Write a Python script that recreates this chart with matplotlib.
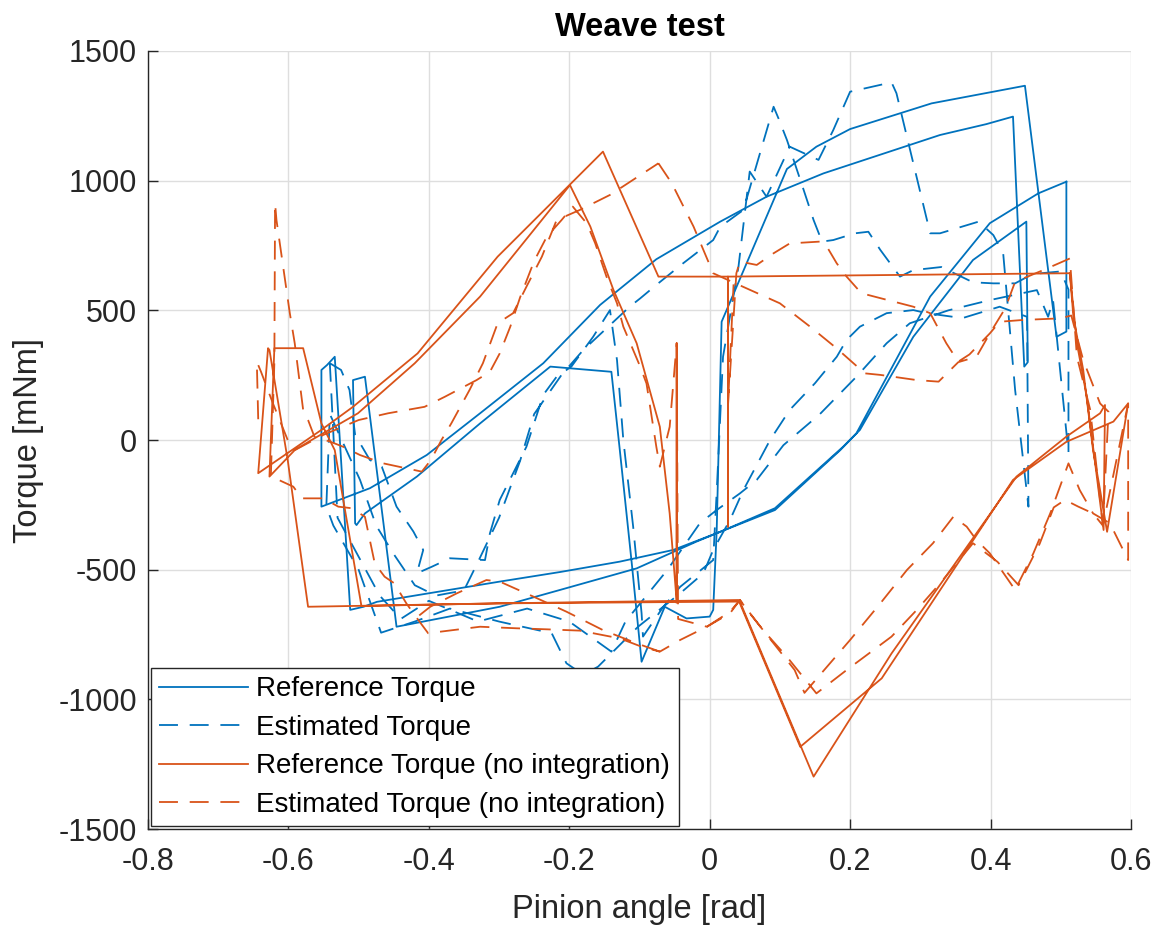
import numpy as np
import matplotlib
matplotlib.use("Agg")
import matplotlib.pyplot as plt

nan = np.nan

# ---------------- data ----------------
# Reference Torque (blue solid)
ref_x = [0.508, 0.468, 0.399, 0.314, 0.209, 0.19, 0.093, 0.015, -0.052, -0.128, -0.213, -0.299, -0.474, -0.493, -0.512,
         -0.534, -0.545, -0.553, -0.553, -0.484, -0.403, -0.327, -0.237, -0.156, -0.076, 0.015, 0.081, 0.162, 0.328, 0.394, 0.432,
         0.448, 0.453, 0.451, 0.375, 0.29, 0.214, 0.186, 0.093, 0.015, -0.019, -0.104, -0.213, -0.299, -0.446,
         -0.491, -0.508, -0.505, -0.503, -0.491, -0.417, -0.327, -0.227, -0.14, -0.128, -0.111, -0.097, -0.064, -0.033,
         0.0, 0.005, 0.01, 0.017, 0.110, 0.152, 0.2, 0.316, 0.449, 0.494, 0.508, 0.508]
ref_y = [996, 951, 836, 553, 26, -26, -263, -354, -424, -469, -509, -546, -624, -643, -655,
         321, 289, 270, -257, -186, -58, 103, 296, 521, 697, 842, 938, 1028, 1176, 1218, 1247,
         283, 300, 842, 694, 398, 39, -39, -270, -354, -392, -495, -578, -643, -720,
         244, 231, -321, -328, -283, -141, 64, 283, 263, -39, -475, -855, -643, -688,
         -681, -655, -347, 456, 1045, 1131, 1199, 1298, 1366, 398, 418, 996]

# Estimated Torque (blue dashed)
est_x = [-0.541, -0.525, -0.513, -0.505, -0.484, -0.467, -0.446, -0.422, -0.408, -0.417, -0.396, -0.37, -0.32, -0.313,
         -0.299, -0.261, -0.237, -0.218, -0.197, -0.166, -0.142, -0.132, -0.123, -0.109, -0.097, -0.095, -0.066, -0.042,
         0.005, 0.01, 0.019, 0.041, 0.057, 0.081, 0.114, 0.155, 0.176, 0.2, 0.259, 0.266, 0.314, 0.328, 0.383, 0.404,
         0.418, 0.435, 0.454, 0.452, 0.413, 0.36, 0.309, 0.29, 0.252, 0.214, 0.195, 0.181, 0.150, 0.114, 0.086, 0.048,
         0.029, 0.005, -0.009, -0.042, -0.102, -0.159, -0.18, -0.204, -0.225, -0.30, -0.37, -0.42, -0.468, -0.50, -0.536,
         -0.546, -0.541,
         -0.498, -0.475, -0.45, -0.42, -0.39, -0.35, -0.33, -0.30, -0.27, -0.25, -0.211, -0.18, -0.137, -0.114, -0.099,
         -0.076, -0.038, 0.005, 0.015, 0.048, 0.091, 0.098, 0.110, 0.133, 0.148, 0.160, 0.176, 0.207, 0.226, 0.243,
         0.271, 0.29, 0.33, 0.375, 0.404, 0.435, 0.46, 0.50, 0.511, 0.511, 0.489, 0.482, 0.466, 0.40, 0.34, 0.285,
         0.252, 0.209, 0.157, 0.105, 0.067, 0.043, 0.01, -0.014, -0.06, -0.12, -0.14, -0.2, -0.26, -0.33, -0.40,
         -0.44, -0.47, -0.53, -0.541]
est_y = [296, 270, 193, 20, -77, -103, -257, -353, -424, -514, -489, -456, -463, -360,
         -231, -26, 174, 244, 283, 398, 501, 308, 0, -334, -668, -758, -643, -566,
         -463, -200, 321, 668, 1035, 938, 1131, 1080, 1195, 1343, 1379, 1337, 797, 797, 842, 790,
         720, 193, -257, 475, 514, 470, 489, 501, 489, 437, 386, 321, 219, 116, 0, -193,
         -308, -424, -514, -591, -720, -874, -905, -861, -745, -700, -650, -700, -743, -500, -330,
         -257, 100,
         -154, -330, -440, -560, -600, -580, -470, -300, -80, 100, 251, 347, 456, 514, 546,
         598, 681, 771, 822, 887, 1285, 1240, 1157, 971, 848, 765, 771, 797, 803, 733,
         630, 655, 667, 608, 604, 604, 640, 650, 580, -50, 540, 475, 578, 540, 500, 450,
         373, 244, 100, -20, -154, -206, -270, -321, -500, -700, -816, -700, -650, -700, -620,
         -690, -600, -300, 296]

# Reference Torque (no integration) (orange solid)
refni_x = [0.513, 0.518, 0.532, 0.546, 0.556, 0.566, 0.596, 0.575, 0.508, 0.432, 0.245, 0.129, 0.041, -0.302, -0.572,
           -0.601, -0.627, -0.629, -0.643, -0.553, -0.508, -0.416, -0.302, -0.152, -0.073, 0.026, 0.026, 0.026, 0.513,
           0.523, 0.537, 0.561, 0.563, 0.556, 0.508, 0.437, 0.259, 0.148, 0.043, -0.302, -0.496, -0.534, -0.553, -0.579,
           -0.62, -0.627, -0.591, -0.567, -0.501, -0.42, -0.327, -0.199, -0.17, -0.137, -0.104, -0.071, -0.057, -0.047,
           -0.047, -0.047]
refni_y = [643, 475, 270, -39, -193, -354, 141, 71, -7, -154, -919, -1183, -617, -630, -643,
           -77, 347, 354, -128, 39, 128, 334, 707, 1112, 630, 630, -334, 630, 643,
           373, 167, -347, 135, 103, 13, -141, -823, -1298, -623, -630, -640, -39, 64, 354,
           354, -141, -39, 0, 103, 296, 553, 983, 823, 578, 373, 51, -283, -623,
           373, -627]

# Estimated Torque (no integration) (orange dashed)
estni_x = [-0.073, -0.054, -0.023, 0.005, 0.026, 0.1, 0.143, 0.181, 0.221, 0.243, 0.295, 0.326, 0.354, 0.38, 0.399,
           0.421, 0.435, 0.475, 0.513, 0.523, 0.542, 0.56, 0.596, 0.596, 0.57, 0.546, 0.527, 0.511, 0.485, 0.461,
           0.435, 0.399, 0.38, 0.366, 0.347, 0.318, 0.281, 0.243, 0.2, 0.135, 0.121, 0.091, 0.057, 0.043, 0.029,
           -0.004, -0.042, -0.071, -0.097, -0.128, -0.185, -0.232, -0.275, -0.327, -0.401, -0.415, -0.432, -0.449,
           -0.463, -0.477, -0.491, -0.51, -0.529, -0.55, -0.581, -0.593, -0.625, -0.62, -0.619, -0.617, -0.598,
           -0.591, -0.579, -0.572, -0.563, -0.541, -0.522, -0.498, -0.465, -0.41, -0.397, -0.382, -0.368, -0.342,
           -0.323, -0.302, -0.28, -0.261, -0.239, -0.218, -0.185, -0.142, -0.095, -0.073,
           nan,
           -0.643, -0.645, -0.639, -0.622, -0.601, -0.591, -0.55, -0.5, -0.458, -0.406, -0.377, -0.332, -0.313, -0.299,
           -0.284, -0.27, -0.25, -0.232, -0.211, -0.195, -0.175, -0.163, -0.147, -0.132, -0.123, -0.099, -0.09,
           -0.076, -0.071, -0.057, -0.047, -0.045, -0.004, 0.029, 0.043, 0.076, 0.11, 0.152, 0.195, 0.259, 0.295,
           0.328, 0.375, 0.41, 0.44, 0.47, 0.49, 0.506, 0.525, 0.546, 0.56, 0.568, 0.556, 0.532, 0.515, 0.499,
           0.447, 0.413, 0.399, 0.37, 0.354, 0.337, 0.314, 0.29, 0.216, 0.195, 0.181, 0.167, 0.157, 0.114, 0.091,
           0.067, 0.043, 0.038, 0.026, 0.034,
           nan,
           -0.071, -0.104, -0.152, -0.204, -0.251, -0.299, -0.318, -0.36, -0.398, -0.42]
estni_y = [1067, 990, 823, 643, 617, 527, 437, 353, 257, 251, 231, 225, 300, 321, 411,
           508, 610, 655, 700, 321, 116, -330, 141, -463, -321, -283, -193, -90, -283, -437,
           -578, -437, -386, -334, -296, -398, -501, -630, -771, -975, -887, -784, -668, -617, -662,
           -720, -771, -816, -797, -765, -735, -730, -726, -720, -745, -694, -630, -553,
           -527, -476, -296, -263, -257, -225, -225, -180, -140, 300, 913, 848, 489,
           373, 116, 77, 13, -6, -26, -58, -90, -122, -77, 0, 64, 193,
           296, 450, 489, 591, 707, 848, 887, 945, 1028, 1067,
           nan,
           80, 302, 263, 141, 0, -39, 20, 77, 103, 128, 167, 231, 263, 334,
           437, 550, 690, 784, 848, 900, 835, 758, 630, 527, 437, 283, 218,
           -26, -103, 51, 373, -690, -720, -668, -617, -733, -836, -977, -887, -758, -655,
           -553, -398, -470, -560, -400, -260, -231, -257, -283, -330, 109, 141, 308, 480, 469,
           463, 456, 411, 330, 302, 373, 489, 514, 566, 630, 681, 745, 765, 758, 720,
           675, 688, 643, 130, 600,
           nan,
           -816, -784, -733, -662, -604, -546, -540, -591, -643, -690]

x_ticks = [-0.8, -0.6, -0.4, -0.2, 0, 0.2, 0.4, 0.6]
x_tick_labels = ["-0.8", "-0.6", "-0.4", "-0.2", "0", "0.2", "0.4", "0.6"]
y_ticks = [-1500, -1000, -500, 0, 500, 1000, 1500]
y_tick_labels = ["-1500", "-1000", "-500", "0", "500", "1000", "1500"]
series_labels = ["Reference Torque", "Estimated Torque",
                 "Reference Torque (no integration)", "Estimated Torque (no integration)"]

# ---------------- styling ----------------
plt.rcParams['font.family'] = ['Liberation Sans', 'DejaVu Sans']
plt.rcParams['axes.unicode_minus'] = False

BLUE = '#0072BD'
ORANGE = '#D95319'
DARK = '#262626'
LW = 1.3
DASH = (0, (10.5, 6.5))

fig = plt.figure(figsize=(11.57, 9.27), dpi=100)
ax = fig.add_axes([0.1279, 0.1057, 0.8496, 0.8393])

ax.plot(ref_x, ref_y, color=BLUE, lw=LW, label=series_labels[0])
ax.plot(est_x, est_y, color=BLUE, lw=LW, linestyle=DASH, label=series_labels[1])
ax.plot(refni_x, refni_y, color=ORANGE, lw=LW, label=series_labels[2])
ax.plot(estni_x, estni_y, color=ORANGE, lw=LW, linestyle=DASH, label=series_labels[3])

ax.set_xlim(-0.8, 0.6)
ax.set_ylim(-1500, 1500)
ax.set_xticks(x_ticks)
ax.set_xticklabels(x_tick_labels)
ax.set_yticks(y_ticks)
ax.set_yticklabels(y_tick_labels)

ax.grid(True, color='#dedede', lw=1.0)
ax.set_axisbelow(True)
for s in ['top', 'right']:
    ax.spines[s].set_visible(False)
for s in ['left', 'bottom']:
    ax.spines[s].set_color(DARK)
    ax.spines[s].set_linewidth(1.0)

ax.tick_params(direction='in', length=7, width=1.0, colors=DARK, labelsize=22, pad=9)
ax.tick_params(axis='x', pad=13)
ax.tick_params(axis='y', pad=8)

ax.set_xlabel("Pinion angle [rad]", fontsize=23.5, color=DARK, labelpad=12)
ax.set_ylabel("Torque [mNm]", fontsize=23.5, color=DARK, labelpad=10)
ax.set_title("Weave test", fontsize=23.5, fontweight='bold', color='black', pad=11)

leg = ax.legend(loc='lower left', fontsize=20, handlelength=3.2, handletextpad=0.3,
                labelspacing=0.45, borderpad=0.3, borderaxespad=0.1,
                fancybox=False, framealpha=1.0, edgecolor=DARK)
leg.get_frame().set_linewidth(1.0)

fig.savefig("out.png", dpi=100)
